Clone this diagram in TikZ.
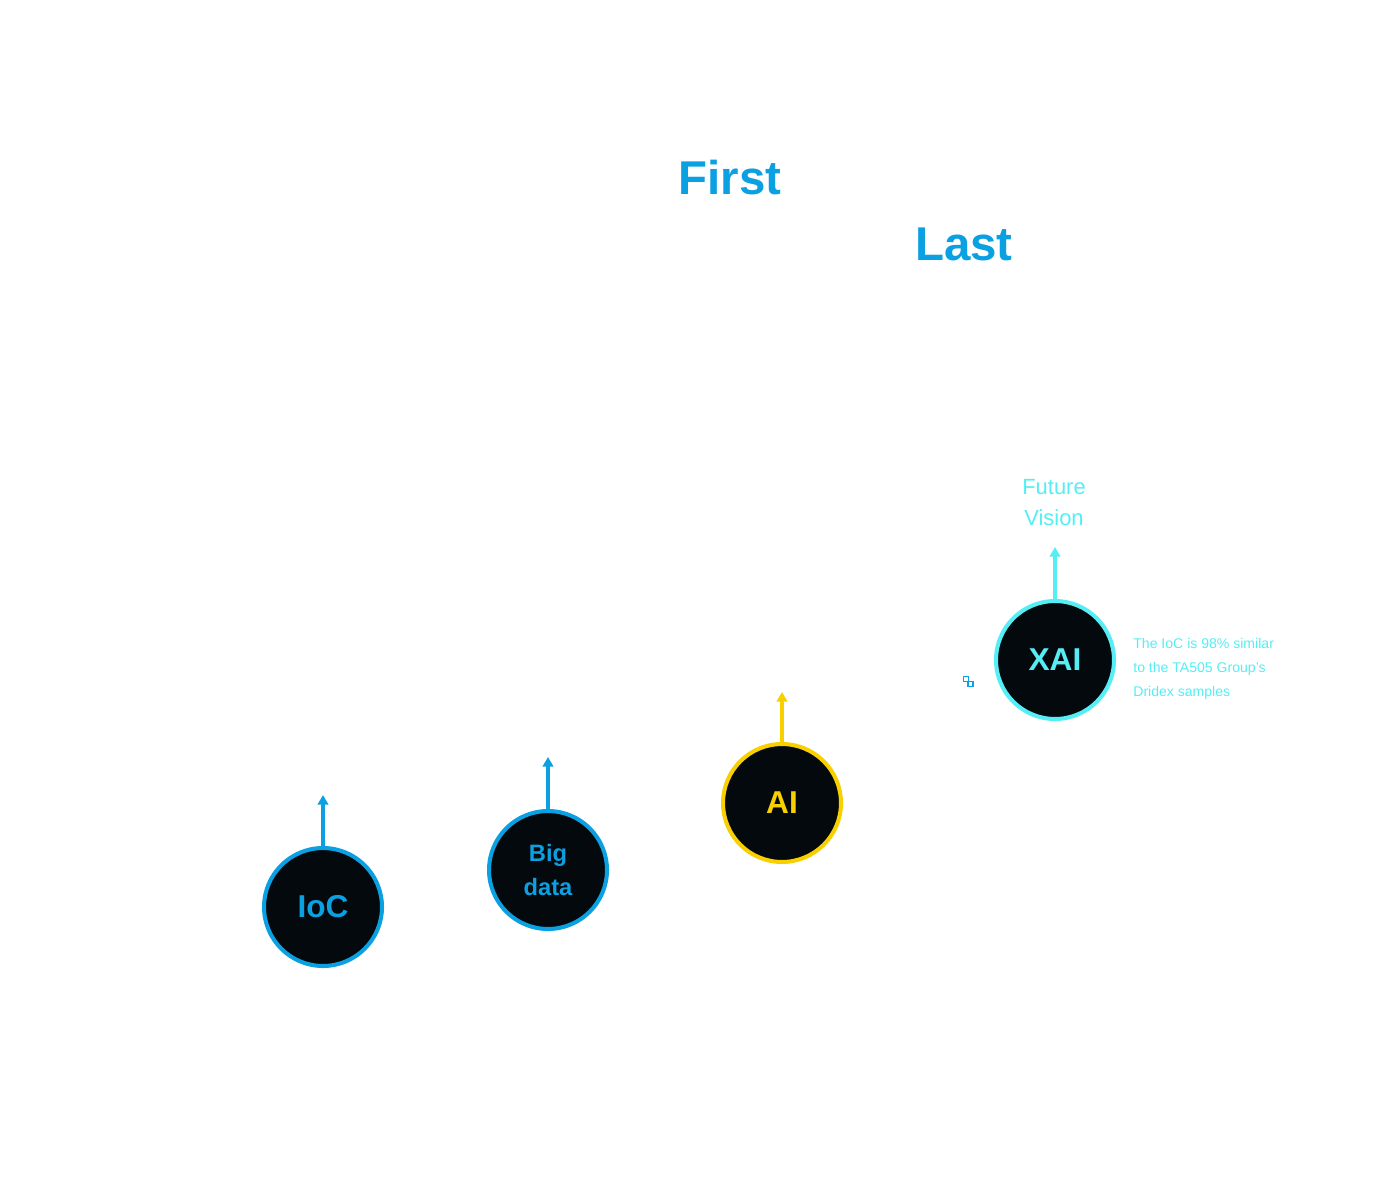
\documentclass[tikz,border=0pt]{standalone}
\usepackage{fontspec}
\setmainfont{Liberation Sans}
\usetikzlibrary{arrows.meta,positioning}
\definecolor{iocblue}{RGB}{10,160,226}
\definecolor{aiyellow}{RGB}{248,208,0}
\definecolor{xaicyan}{RGB}{84,238,244}
\definecolor{ink}{RGB}{4,9,14}

\begin{document}
\begin{tikzpicture}[>={Triangle[width=6pt,length=5.5pt]}, x=0.02cm, y=-0.02cm,
    stage/.style={circle, draw=#1, fill=ink, line width=2.3pt, minimum size=2.36cm,
        inner sep=0pt, text=#1, font=\bfseries\fontsize{18}{20}\selectfont, align=center},
    title/.style={text=iocblue, font=\bfseries\fontsize{27}{32}\selectfont}]
    \useasboundingbox (0,0) rectangle (1400,1200);
    \node[title] (first) at (730,178) {First};
    \node[title] (last) at (964,244) {Last};
    \node[stage=iocblue] (ioc) at (323,907) {IoC};
    \node[stage=iocblue, font=\bfseries\fontsize{13.5}{19}\selectfont] (bigdata) at (548,870) {Big\\data};
    \node[stage=aiyellow] (ai) at (782,803) {AI};
    \node[stage=xaicyan] (xai) at (1055,660) {XAI};
    \coordinate (ioc-up) at (323,795);
    \coordinate (bigdata-up) at (548,757);
    \coordinate (ai-up) at (782,692);
    \coordinate (xai-up) at (1055,547);
    \foreach \n/\c in {ioc/iocblue,bigdata/iocblue,ai/aiyellow,xai/xaicyan}{
        \draw[->, \c, line width=2pt] (\n.north) -- (\n-up);
    }
    \node[text=xaicyan, align=center, font=\fontsize{12.5}{17.6}\selectfont] (vision) at (1054,503) {Future\\Vision};
    \node[text=xaicyan, align=left, anchor=west, inner sep=0pt,
        font=\fontsize{8}{13.7}\selectfont] (note) at (1133,669) {The IoC is 98\% similar\\to the TA505 Group's\\Dridex samples};
    % small link icon
    \draw[iocblue, line width=1pt] (963.5,676.5) rectangle (968.5,681.5);
    \draw[iocblue, line width=1pt] (968,681.5) rectangle (973,686.5);
\end{tikzpicture}
\end{document}
